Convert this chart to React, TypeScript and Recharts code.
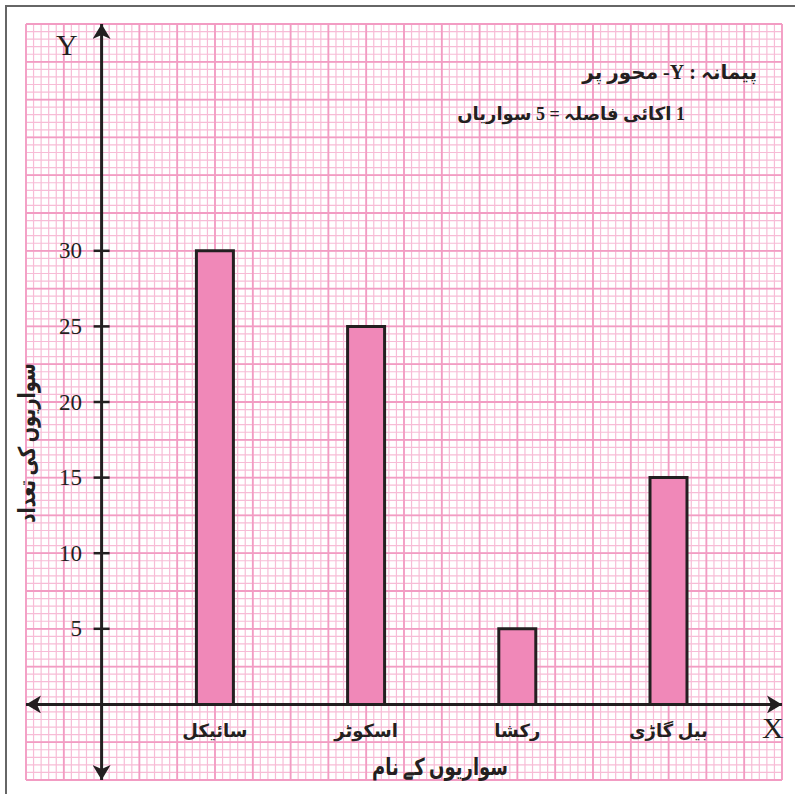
import React from 'react';
import { ComposedChart, Bar, XAxis, YAxis, CartesianGrid, ReferenceLine, LabelList } from 'recharts';

// ---- data ----
const categories = ['سائیکل', 'اسکوٹر', 'رکشا', 'بیل گاڑی'];
const counts = [30, 25, 5, 15];
const yTicks = [5, 10, 15, 20, 25, 30];
const yDomain: [number, number] = [-5, 45];

const scaleTitle = 'پیمانہ : Y- محور پر';
const scaleLine = '1 اکائی فاصلہ = 5 سواریاں';
const yTitle = 'سواریوں کی تعداد';
const xTitle = 'سواریوں کے نام';

const data = categories.map((name, i) => ({ name, count: counts[i] }));

const INK = '#231f20';
const W = 795;
const H = 794;
const MARGIN = { top: 24, right: 13, bottom: 14, left: 26 };
const Y_AXIS_W = 75.6;
const TICK_SIZE = 8;
const TICK_MARGIN = 11.6;
const URDU = '"Liberation Serif", "DejaVu Sans", serif';

const divisions = (start: number, size: number, n: number) =>
  Array.from({ length: n + 1 }, (_, i) => start + (i * size) / n);

const axisShape = (p: any) => (
  <line
    x1={p.x1}
    y1={p.y1}
    x2={p.x2}
    y2={p.y2}
    stroke={INK}
    strokeWidth={3}
    markerStart="url(#axisArrow)"
    markerEnd="url(#axisArrow)"
  />
);

const renderYTick = (p: any) => {
  const axisX = p.x + TICK_MARGIN + TICK_SIZE;
  return (
    <g>
      <line x1={axisX - TICK_SIZE} x2={axisX + TICK_SIZE} y1={p.y} y2={p.y} stroke={INK} strokeWidth={2.5} />
      <text
        x={p.x}
        y={p.y}
        dy="0.33em"
        textAnchor="end"
        fill={INK}
        fontSize={23}
        fontFamily='"Liberation Serif", serif'
      >
        {p.payload.value}
      </text>
    </g>
  );
};

const renderCatLabel = (p: any) => {
  const vb = p.viewBox || p;
  return (
    <text
      x={vb.x + vb.width / 2}
      y={vb.y + vb.height + 33}
      textAnchor="middle"
      fill={INK}
      fontSize={18}
      fontWeight="bold"
      fontFamily={URDU}
      direction="rtl"
    >
      {p.value}
    </text>
  );
};

export default function App() {
  return (
    <div style={{ position: 'absolute', left: 0, top: 0, width: W, height: H, background: '#fff', overflow: 'hidden' }}>
      <div
        style={{
          position: 'absolute',
          left: 5,
          top: 5,
          width: W,
          height: H,
          borderLeft: '2px solid #666',
          borderTop: '2px solid #666',
        }}
      />
      <svg width={0} height={0} style={{ position: 'absolute' }}>
        <defs>
          <marker
            id="axisArrow"
            viewBox="0 0 15 18"
            refX={15}
            refY={9}
            markerWidth={15}
            markerHeight={18}
            markerUnits="userSpaceOnUse"
            orient="auto-start-reverse"
          >
            <path d="M0,0 L15,9 L0,18 L4,9 Z" fill={INK} />
          </marker>
        </defs>
      </svg>

      {/* background: graph paper + X axis */}
      <div style={{ position: 'absolute', left: 0, top: 0 }}>
        <ComposedChart width={W} height={H} data={data} margin={MARGIN}>
          <XAxis xAxisId="cat" dataKey="name" type="category" hide />
          <YAxis yAxisId="v" type="number" domain={yDomain} hide allowDataOverflow />
          <CartesianGrid
            xAxisId="cat"
            yAxisId="v"
            stroke="#f7bcd6"
            strokeWidth={1.2}
            verticalCoordinatesGenerator={({ offset }: any) => divisions(offset.left, offset.width, 100)}
            horizontalCoordinatesGenerator={({ offset }: any) => divisions(offset.top, offset.height, 100)}
          />
          <CartesianGrid
            xAxisId="cat"
            yAxisId="v"
            stroke="#f29cc3"
            strokeWidth={1.8}
            verticalCoordinatesGenerator={({ offset }: any) => divisions(offset.left, offset.width, 20)}
            horizontalCoordinatesGenerator={({ offset }: any) => divisions(offset.top, offset.height, 20)}
          />
          <ReferenceLine xAxisId="cat" yAxisId="v" y={0} shape={axisShape} />
        </ComposedChart>
      </div>

      {/* foreground: Y axis + bars */}
      <div style={{ position: 'absolute', left: 0, top: 0 }}>
        <ComposedChart width={W} height={H} data={data} margin={MARGIN}>
          <XAxis xAxisId="cat" dataKey="name" type="category" hide padding={{ left: 37.8, right: 37.8 }} />
          <YAxis
            yAxisId="v"
            type="number"
            domain={yDomain}
            allowDataOverflow
            width={Y_AXIS_W}
            ticks={yTicks}
            interval={0}
            tickLine={false}
            tickSize={TICK_SIZE}
            tickMargin={TICK_MARGIN}
            axisLine={{
              stroke: INK,
              strokeWidth: 3,
              markerStart: 'url(#axisArrow)',
              markerEnd: 'url(#axisArrow)',
            }}
            tick={renderYTick}
          />
          <Bar
            xAxisId="cat"
            yAxisId="v"
            dataKey="count"
            barSize={37}
            fill="#f088b8"
            stroke={INK}
            strokeWidth={3}
            isAnimationActive={false}
          >
            <LabelList dataKey="name" content={renderCatLabel} />
          </Bar>
        </ComposedChart>
      </div>

      <div style={{ position: 'absolute', left: 56, top: 30, font: '30px "Liberation Serif", serif', color: INK, lineHeight: 1 }}>Y</div>
      <div style={{ position: 'absolute', left: 762, top: 713, font: '30px "Liberation Serif", serif', color: INK, lineHeight: 1 }}>X</div>

      <div
        dir="rtl"
        style={{ position: 'absolute', right: W - 757, top: 60, font: `bold 20px ${URDU}`, color: INK, whiteSpace: 'nowrap', lineHeight: 1.2 }}
      >
        {scaleTitle}
      </div>
      <div
        dir="rtl"
        style={{ position: 'absolute', right: W - 685, top: 104, font: `bold 18px ${URDU}`, color: INK, whiteSpace: 'nowrap', lineHeight: 1.2 }}
      >
        {scaleLine}
      </div>
      <div
        dir="rtl"
        style={{
          position: 'absolute',
          left: 28,
          top: 443,
          transform: 'translate(-50%, -50%) rotate(-90deg) scaleY(1.3)',
          font: `bold 18px ${URDU}`,
          color: INK,
          whiteSpace: 'nowrap',
          lineHeight: 1.2,
        }}
      >
        {yTitle}
      </div>
      <div
        dir="rtl"
        style={{
          position: 'absolute',
          left: 440,
          top: 768,
          transform: 'translate(-50%, -50%) scaleY(1.3)',
          font: `bold 18px ${URDU}`,
          color: INK,
          whiteSpace: 'nowrap',
          lineHeight: 1.2,
        }}
      >
        {xTitle}
      </div>
    </div>
  );
}
